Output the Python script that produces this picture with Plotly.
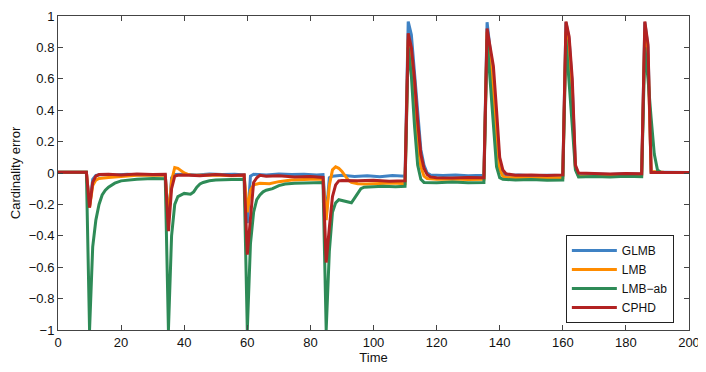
import plotly.graph_objects as go

# Données
t_glmb = [0, 5, 9, 10, 11, 12, 14, 18, 22, 26, 30, 34, 35, 36, 37, 40, 44, 48, 52, 56, 59, 60, 61, 62, 66, 70, 74, 78, 82, 84,
          85, 86, 87, 90, 94, 98, 102, 106, 110, 111, 112, 113, 114, 115, 116, 117, 118, 122, 126, 130, 135, 136, 137, 138,
          139, 140, 141, 142, 146, 150, 155, 160, 161, 162, 163, 164, 165, 170, 175, 180, 185, 186, 187, 188, 192, 196, 200]
y_glmb = [0.005, 0.006, 0.005, -0.21, -0.04, -0.015, -0.01, -0.012, -0.008, -0.012, -0.01, -0.012, -0.3, -0.03, -0.01,
          -0.008, -0.012, -0.006, -0.01, -0.008, -0.012, -0.32, -0.02, -0.008, -0.012, -0.006, -0.01, -0.008, -0.012, -0.01,
          -0.28, -0.03, -0.02, -0.015, -0.022, -0.018, -0.024, -0.016, -0.02, 0.965, 0.88, 0.65, 0.4, 0.15, 0.05, 0.0,
          -0.012, -0.016, -0.012, -0.018, -0.014, 0.96, 0.78, 0.6, 0.3, 0.06, 0.0, -0.015, -0.012, -0.018, -0.014, -0.016,
          0.96, 0.85, 0.55, 0.04, -0.008, -0.006, -0.01, -0.005, -0.008, 0.96, 0.8, 0.005, 0.004, 0.003, 0.003]

t_lmb = [0, 5, 9, 10, 11, 12, 13, 16, 20, 25, 30, 34, 35, 36, 37, 38, 39, 40, 41, 42, 46, 50, 55, 59, 60, 61, 62, 64, 67, 70,
         74, 78, 82, 84, 85, 86, 87, 88, 89, 90, 91, 92, 93, 95, 98, 102, 106, 110, 111, 112, 113, 114, 115, 116, 117, 120,
         125, 130, 135, 136, 137, 138, 139, 140, 141, 142, 146, 150, 155, 160, 161, 162, 163, 164, 165, 170, 175, 180, 185,
         186, 187, 188, 192, 196, 200]
y_lmb = [0.005, 0.006, 0.005, -0.22, -0.08, -0.045, -0.035, -0.028, -0.022, -0.015, -0.012, -0.015, -0.3, -0.05, 0.035,
         0.03, 0.015, 0.0, -0.008, -0.012, -0.015, -0.012, -0.018, -0.015, -0.25, -0.11, -0.075, -0.065, -0.068, -0.055,
         -0.045, -0.04, -0.038, -0.04, -0.3, -0.08, 0.02, 0.04, 0.03, 0.01, -0.02, -0.045, -0.06, -0.068, -0.07, -0.066,
         -0.064, -0.068, 0.85, 0.7, 0.45, 0.2, 0.04, -0.02, -0.035, -0.04, -0.038, -0.042, -0.04, 0.9, 0.7, 0.5, 0.2, 0.02,
         -0.02, -0.03, -0.028, -0.032, -0.03, -0.03, 0.9, 0.75, 0.45, 0.03, -0.02, -0.02, -0.022, -0.018, -0.02, 0.9, 0.75,
         0.01, 0.004, 0.003, 0.003]

t_ab = [0, 5, 9, 10, 11, 12, 13, 14, 15, 16, 17, 18, 20, 22, 25, 30, 34, 35, 36, 37, 38, 40, 42, 43, 44, 45, 46, 48, 50, 55,
        59, 60, 61, 62, 63, 64, 65, 66, 68, 70, 72, 75, 80, 84, 85, 86, 87, 88, 89, 91, 93, 94, 95, 96, 97, 99, 103, 107,
        110, 111, 112, 113, 114, 115, 116, 120, 125, 130, 135, 136, 137, 138, 139, 140, 141, 145, 150, 155, 160, 161, 162,
        163, 164, 165, 170, 175, 180, 185, 186, 187, 188, 189, 190, 191, 195, 200]
y_ab = [0.005, 0.006, 0.005, -1, -0.47, -0.3, -0.2, -0.14, -0.11, -0.09, -0.075, -0.065, -0.05, -0.045, -0.04, -0.035,
        -0.036, -1, -0.4, -0.2, -0.15, -0.13, -0.135, -0.12, -0.09, -0.07, -0.06, -0.05, -0.045, -0.042, -0.04, -1, -0.45,
        -0.25, -0.17, -0.14, -0.12, -0.11, -0.1, -0.08, -0.07, -0.065, -0.06, -0.06, -1, -0.5, -0.25, -0.19, -0.17, -0.18,
        -0.19, -0.16, -0.13, -0.1, -0.09, -0.087, -0.085, -0.088, -0.085, 0.8, 0.62, 0.3, 0.05, -0.04, -0.06, -0.062,
        -0.058, -0.062, -0.06, 0.85, 0.6, 0.3, 0.04, -0.03, -0.04, -0.045, -0.042, -0.046, -0.044, 0.85, 0.6, 0.3, 0.02,
        -0.025, -0.022, -0.026, -0.02, -0.024, 0.8, 0.6, 0.35, 0.12, 0.02, 0.005, 0.003, 0.003]

t_cphd = [0, 5, 9, 10, 11, 12, 13, 16, 20, 25, 30, 34, 35, 36, 37, 38, 40, 45, 50, 55, 59, 60, 61, 62, 63, 64, 66, 70, 75,
          80, 84, 85, 86, 87, 88, 89, 90, 95, 100, 105, 110, 111, 112, 113, 114, 115, 116, 117, 118, 120, 125, 130, 135,
          136, 137, 138, 139, 140, 141, 142, 145, 150, 155, 160, 161, 162, 163, 164, 165, 170, 175, 180, 185, 186, 187, 188,
          192, 196, 200]
y_cphd = [0.005, 0.006, 0.005, -0.22, -0.06, -0.02, -0.01, -0.008, -0.012, -0.006, -0.01, -0.008, -0.37, -0.1, -0.02,
          -0.015, -0.012, -0.018, -0.01, -0.016, -0.012, -0.52, -0.28, -0.06, -0.03, -0.015, -0.02, -0.018, -0.025, -0.022,
          -0.028, -0.57, -0.35, -0.15, -0.076, -0.05, -0.048, -0.05, -0.046, -0.052, -0.05, 0.89, 0.8, 0.6, 0.33, 0.12,
          0.03, -0.01, -0.025, -0.03, -0.032, -0.028, -0.03, 0.92, 0.8, 0.68, 0.4, 0.1, 0.02, -0.005, -0.015, -0.012,
          -0.016, -0.012, 0.965, 0.87, 0.6, 0.05, 0.0, -0.004, -0.006, -0.003, -0.005, 0.965, 0.82, 0.003, 0.004, 0.003,
          0.003]

series = [('GLMB', t_glmb, y_glmb, '#3f82c4'),
          ('LMB', t_lmb, y_lmb, '#ff8c00'),
          ('LMB\u2212ab', t_ab, y_ab, '#2e8b57'),
          ('CPHD', t_cphd, y_cphd, '#b22222')]

fig = go.Figure()
for nom, t, y, coul in series:
    fig.add_trace(go.Scatter(x=t, y=y, mode='lines', name=nom, line=dict(color=coul, width=3)))

axe = dict(showline=True, linecolor='#444', linewidth=1, mirror='ticks', ticks='inside', ticklen=5,
           tickcolor='#444', showgrid=False, zeroline=False, automargin=False,
           tickfont=dict(size=13, color='#111'))

# la page HTML ajoute 8 px de marge autour de la figure
fig.update_layout(
    width=698, height=364,
    margin=dict(l=50, r=17, t=8, b=42),
    paper_bgcolor='white', plot_bgcolor='white',
    font=dict(family='Liberation Sans, Arial, sans-serif', size=13, color='#111'),
    showlegend=True,
    legend=dict(x=0.976, y=0.022, xanchor='right', yanchor='bottom', bgcolor='white',
                bordercolor='#222', borderwidth=1, font=dict(size=12), tracegroupgap=0,
                itemwidth=45),
)
fig.update_xaxes(range=[0, 200], dtick=20, title=dict(text='Time', font=dict(size=13), standoff=2), **axe)
fig.update_yaxes(range=[-1, 1], dtick=0.2, title=dict(text='Cardinality error', font=dict(size=13), standoff=12), **axe)

fig.write_html("out.html")
